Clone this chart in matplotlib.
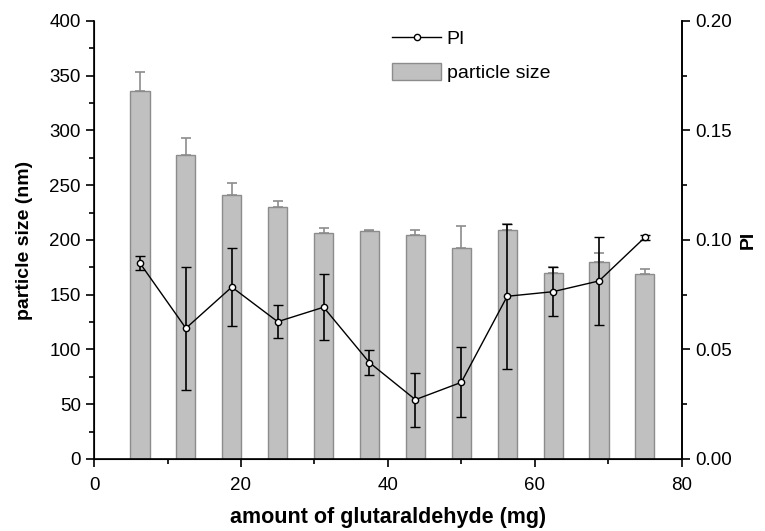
import matplotlib
matplotlib.use("Agg")
import matplotlib.pyplot as plt
from matplotlib.lines import Line2D
from matplotlib.ticker import MultipleLocator, FormatStrFormatter

# glutaraldehyde amount (mg)
amount = [6.25, 12.5, 18.75, 25.0, 31.25, 37.5, 43.75, 50.0, 56.25, 62.5, 68.75, 75.0]

# particle size (nm) and upper error
size_nm = [336, 278, 241, 230, 206, 208, 205, 193, 209, 170, 180, 169]
size_err = [17, 15.5, 11, 6, 5.2, 1.2, 4.5, 19.5, 6, 5.5, 8, 4.5]

# polydispersity index and error
pi_val = [0.0894, 0.0597, 0.0785, 0.0627, 0.0693, 0.0440, 0.0271, 0.0350,
          0.0743, 0.0764, 0.0813, 0.1012]
pi_err = [0.0032, 0.0280, 0.0177, 0.0076, 0.0150, 0.0058, 0.0123, 0.0160,
          0.0330, 0.0112, 0.0200, 0.0010]

plt.rcParams["font.family"] = ["Liberation Sans", "DejaVu Sans"]
TICK_FS = 13.5
LABEL_FS = 14

fig = plt.figure(figsize=(7.65, 5.31), dpi=100)
ax = fig.add_axes([0.123, 0.1356, 0.768, 0.8249])

bars = ax.bar(amount, size_nm, width=2.6, color="#c0c0c0", edgecolor="#8c8c8c",
              linewidth=1.0, label="particle size", zorder=2)
ax.errorbar(amount, size_nm, yerr=[[0] * len(size_err), size_err], fmt="none",
            ecolor="#8c8c8c", elinewidth=1.2, capsize=3.4, capthick=1.2, zorder=2)

ax.set_xlim(0, 80)
ax.set_ylim(0, 400)
ax.xaxis.set_major_locator(MultipleLocator(20))
ax.xaxis.set_minor_locator(MultipleLocator(10))
ax.yaxis.set_major_locator(MultipleLocator(50))
ax.yaxis.set_minor_locator(MultipleLocator(25))
ax.tick_params(which="both", direction="out", labelsize=TICK_FS, width=1.2)
ax.tick_params(which="major", length=6)
ax.tick_params(which="minor", length=3.5)
ax.tick_params(axis="x", which="major", pad=7)
ax.spines["top"].set_visible(False)
for s in ("left", "bottom", "right"):
    ax.spines[s].set_linewidth(1.2)
ax.set_xlabel("amount of glutaraldehyde (mg)", fontsize=15.5, fontweight="bold", labelpad=9)
ax.set_ylabel("particle size (nm)", fontsize=LABEL_FS, fontweight="bold", labelpad=12)

ax2 = ax.twinx()
ax2.errorbar(amount, pi_val, yerr=pi_err, color="black", linewidth=1.0,
             marker="o", markersize=4.5, markerfacecolor="white",
             markeredgecolor="black", markeredgewidth=1.0,
             ecolor="black", elinewidth=1.2, capsize=3.6, capthick=1.2, zorder=3)
ax2.set_ylim(0, 0.20)
ax2.yaxis.set_major_locator(MultipleLocator(0.05))
ax2.yaxis.set_minor_locator(MultipleLocator(0.025))
ax2.yaxis.set_major_formatter(FormatStrFormatter("%.2f"))
ax2.tick_params(which="both", direction="out", labelsize=TICK_FS, width=1.2)
ax2.tick_params(which="major", length=6)
ax2.tick_params(which="minor", length=3.5)
ax2.spines["top"].set_visible(False)
ax2.spines["right"].set_linewidth(1.2)
ax2.set_ylabel("PI", fontsize=LABEL_FS, fontweight="bold", labelpad=6)

pi_handle = Line2D([], [], color="black", linewidth=1.0, marker="o", markersize=4.5,
                   markerfacecolor="white", markeredgecolor="black")
ax2.legend([pi_handle, bars], ["PI", "particle size"], loc="upper left",
           bbox_to_anchor=(0.478, 1.022), frameon=False, fontsize=14,
           handlelength=2.5, handleheight=1.0, handletextpad=0.3, labelspacing=0.75)

fig.savefig("out.png", dpi=100)
